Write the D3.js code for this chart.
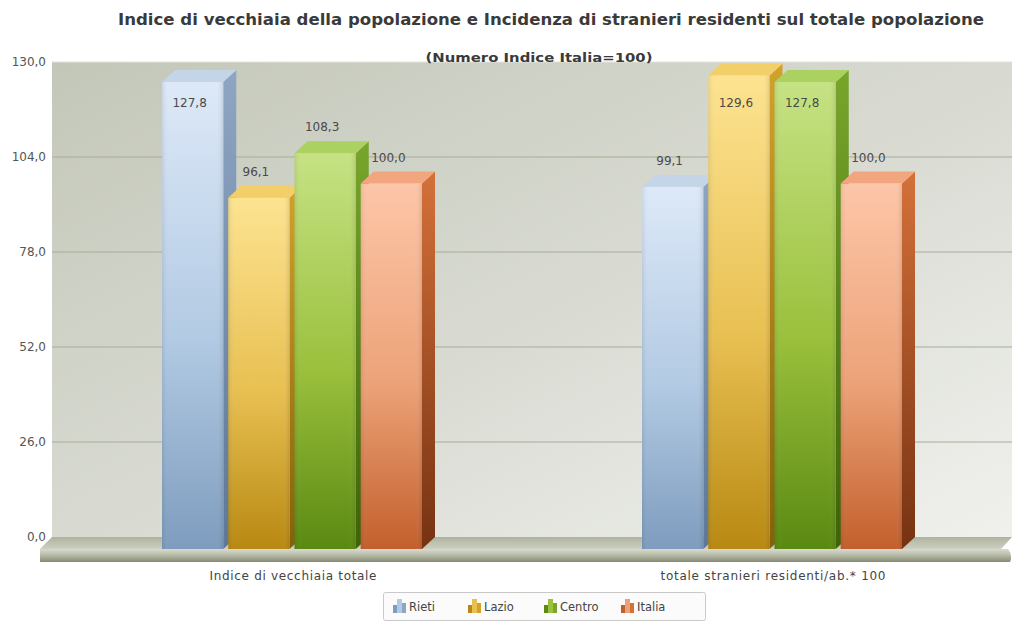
<!DOCTYPE html>
<html>
<head>
<meta charset="utf-8">
<script src="https://cdn.jsdelivr.net/npm/d3@7"></script>
<style>
  html, body { margin: 0; padding: 0; background: #ffffff; }
  svg { display: block; }
  text { font-family: "DejaVu Sans", Verdana, sans-serif; }
</style>
</head>
<body>
<svg id="chart" width="1014" height="623"></svg>
<script>
// Chart data
const categories = ["Indice di vecchiaia totale", "totale stranieri residenti/ab.* 100"];
const series = ["Rieti", "Lazio", "Centro", "Italia"];
const rietiValues = [127.8, 99.1];
const lazioValues = [96.1, 129.6];
const centroValues = [108.3, 127.8];
const italiaValues = [100.0, 100.0];
const yTicks = [0, 26, 52, 78, 104, 130];

const title = "Indice di vecchiaia della popolazione e Incidenza di stranieri residenti sul totale popolazione";
const subtitle = "(Numero Indice Italia=100)";

const valuesBySeries = [rietiValues, lazioValues, centroValues, italiaValues];

// Face colours per series: front gradient (top, middle, bottom), side, top
const palette = {
  Rieti:  { hi: "#dde9f8", mid: "#b2cae3", lo: "#7e9cbe", side: "#8ea6c2", sideLo: "#5d7898", top: "#c4d5e8" },
  Lazio:  { hi: "#fde391", mid: "#e8c052", lo: "#b88912", side: "#d2a22a", sideLo: "#86600a", top: "#f3cf6a" },
  Centro: { hi: "#c6e284", mid: "#9ac03c", lo: "#5a8912", side: "#78a62c", sideLo: "#3d6208", top: "#abd160" },
  Italia: { hi: "#fdc6a8", mid: "#eca278", lo: "#c35f2c", side: "#d4713a", sideLo: "#763212", top: "#f2a680" }
};

const svg = d3.select("#chart");
const defs = svg.append("defs");

const plot = { left: 52, right: 1012, top: 62, bottom: 537 };
const depthX = 13, depthY = 12;

const y = d3.scaleLinear().domain([0, 130]).range([plot.bottom, plot.top]);
const x0 = d3.scaleBand().domain(categories).range([plot.left, plot.right]);
const x1 = d3.scaleBand().domain(series).range([110, 370]).paddingInner(0.075);

// Back wall gradient
const wall = defs.append("linearGradient").attr("id", "wall")
  .attr("x1", "0%").attr("y1", "0%").attr("x2", "100%").attr("y2", "100%");
wall.append("stop").attr("offset", "0%").attr("stop-color", "#c3c7b8");
wall.append("stop").attr("offset", "55%").attr("stop-color", "#dadcd4");
wall.append("stop").attr("offset", "100%").attr("stop-color", "#f0f1ed");

svg.append("rect")
  .attr("x", plot.left).attr("y", plot.top)
  .attr("width", plot.right - plot.left).attr("height", plot.bottom - plot.top)
  .attr("fill", "url(#wall)");

// Gridlines
svg.append("g").selectAll("line")
  .data(yTicks.filter(t => t > 0))
  .join("line")
  .attr("x1", plot.left).attr("x2", plot.right)
  .attr("y1", d => y(d)).attr("y2", d => y(d))
  .attr("stroke", d => d === 130 ? "#e2e4dc" : "#a7ad9a")
  .attr("stroke-width", 1);

// Y axis labels
const fmt = v => d3.format(".1f")(v).replace(".", ",");
svg.append("g").selectAll("text")
  .data(yTicks)
  .join("text")
  .attr("x", 46).attr("y", d => y(d) + 4)
  .attr("text-anchor", "end")
  .attr("font-size", 12)
  .attr("fill", "#555")
  .text(fmt);

// Floor slab
const floorTop = defs.append("linearGradient").attr("id", "floorTop")
  .attr("x1", "0").attr("y1", "0").attr("x2", "0").attr("y2", "1");
floorTop.append("stop").attr("offset", "0%").attr("stop-color", "#aeb39e");
floorTop.append("stop").attr("offset", "100%").attr("stop-color", "#cdd0c2");
const floorFront = defs.append("linearGradient").attr("id", "floorFront")
  .attr("x1", "0").attr("y1", "0").attr("x2", "0").attr("y2", "1");
floorFront.append("stop").attr("offset", "0%").attr("stop-color", "#d8dbcf");
floorFront.append("stop").attr("offset", "45%").attr("stop-color", "#b9bda9");
floorFront.append("stop").attr("offset", "100%").attr("stop-color", "#858a74");

const fy = plot.bottom + depthY;
svg.append("path")
  .attr("d", `M${plot.left},${plot.bottom} L${plot.right},${plot.bottom} L${plot.right - depthX + 2},${fy} L${plot.left - depthX + 1},${fy} Z`)
  .attr("fill", "url(#floorTop)");
svg.append("path")
  .attr("d", `M${plot.left - depthX + 1},${fy} L${plot.right - 4},${fy} Q${plot.right + 1},${fy + 6} ${plot.right - 2},${fy + 13} L${plot.left - depthX + 1},${fy + 13} Z`)
  .attr("fill", "url(#floorFront)");

// Gradients for each series
series.forEach(s => {
  const c = palette[s];
  const g = defs.append("linearGradient").attr("id", "front-" + s)
    .attr("x1", "0").attr("y1", "0").attr("x2", "0").attr("y2", "1");
  g.append("stop").attr("offset", "0%").attr("stop-color", c.hi);
  g.append("stop").attr("offset", "55%").attr("stop-color", c.mid);
  g.append("stop").attr("offset", "100%").attr("stop-color", c.lo);
  const gs = defs.append("linearGradient").attr("id", "side-" + s)
    .attr("x1", "0").attr("y1", "0").attr("x2", "0").attr("y2", "1");
  gs.append("stop").attr("offset", "0%").attr("stop-color", c.side);
  gs.append("stop").attr("offset", "100%").attr("stop-color", c.sideLo);
});
// Soft vertical edges on the front faces
const edge = defs.append("linearGradient").attr("id", "edge")
  .attr("x1", "0").attr("y1", "0").attr("x2", "1").attr("y2", "0");
edge.append("stop").attr("offset", "0%").attr("stop-color", "#000").attr("stop-opacity", 0.08);
edge.append("stop").attr("offset", "12%").attr("stop-color", "#fff").attr("stop-opacity", 0.0);
edge.append("stop").attr("offset", "88%").attr("stop-color", "#fff").attr("stop-opacity", 0.0);
edge.append("stop").attr("offset", "100%").attr("stop-color", "#000").attr("stop-opacity", 0.1);

// Bars
const bars = [];
categories.forEach((cat, ci) => {
  series.forEach((s, si) => {
    bars.push({ cat, s, v: valuesBySeries[si][ci] });
  });
});

const barW = x1.bandwidth();
const gBars = svg.append("g");
bars.forEach(b => {
  const xl = x0(b.cat) + x1(b.s);
  const xr = xl + barW;
  const yt = y(b.v) + depthY;         // front top
  const yb = y(0) + depthY;           // front bottom
  const g = gBars.append("g");
  // side face
  g.append("path")
    .attr("d", `M${xr},${yt} L${xr + depthX},${yt - depthY} L${xr + depthX},${yb - depthY} L${xr},${yb} Z`)
    .attr("fill", `url(#side-${b.s})`);
  // top face
  g.append("path")
    .attr("d", `M${xl},${yt} L${xl + depthX},${yt - depthY} L${xr + depthX},${yt - depthY} L${xr},${yt} Z`)
    .attr("fill", palette[b.s].top);
  // front face
  g.append("rect")
    .attr("x", xl).attr("y", yt).attr("width", barW).attr("height", yb - yt)
    .attr("fill", `url(#front-${b.s})`);
  g.append("rect")
    .attr("x", xl).attr("y", yt).attr("width", barW).attr("height", yb - yt)
    .attr("fill", "url(#edge)");
});

// Value labels
svg.append("g").selectAll("text")
  .data(bars)
  .join("text")
  .attr("x", d => x0(d.cat) + x1(d.s) + barW / 2 - 3)
  .attr("y", d => Math.max(y(d.v) - 10, 107))
  .attr("text-anchor", "middle")
  .attr("font-size", 12)
  .attr("fill", "#4a4a4a")
  .text(d => fmt(d.v));

// Category labels
const categoryLabelWidths = [167, 225];
svg.append("g").selectAll("text")
  .data(categories)
  .join("text")
  .attr("x", d => x0(d) + x0.bandwidth() / 2 + 1)
  .attr("y", 580)
  .attr("text-anchor", "middle")
  .attr("font-size", 12)
  .attr("fill", "#444")
  .attr("textLength", (d, i) => categoryLabelWidths[i])
  .attr("lengthAdjust", "spacing")
  .text(d => d);

// Title and subtitle
svg.append("text")
  .attr("x", 551).attr("y", 25)
  .attr("text-anchor", "middle")
  .attr("font-size", 15)
  .attr("font-weight", "bold")
  .attr("fill", "#3a3a3a")
  .attr("textLength", 866)
  .attr("lengthAdjust", "spacingAndGlyphs")
  .text(title);
svg.append("text")
  .attr("x", 539).attr("y", 62)
  .attr("text-anchor", "middle")
  .attr("font-size", 13)
  .attr("font-weight", "bold")
  .attr("fill", "#3a3a3a")
  .attr("textLength", 227)
  .attr("lengthAdjust", "spacingAndGlyphs")
  .text(subtitle);

// Legend
const legend = svg.append("g");
legend.append("rect")
  .attr("x", 383.5).attr("y", 592.5).attr("width", 322).attr("height", 28)
  .attr("rx", 2)
  .attr("fill", "#fbfbfb").attr("stroke", "#c9c9c9");
const legendX = [393, 468, 544, 621];
series.forEach((s, i) => {
  const c = palette[s];
  const g = legend.append("g").attr("transform", `translate(${legendX[i]},599)`);
  // small bar-chart glyph
  g.append("rect").attr("x", 0).attr("y", 6).attr("width", 4).attr("height", 8).attr("fill", c.lo);
  g.append("rect").attr("x", 4).attr("y", 0).attr("width", 5).attr("height", 14).attr("fill", c.mid);
  g.append("rect").attr("x", 9).attr("y", 4).attr("width", 4).attr("height", 10).attr("fill", c.side);
  g.append("text")
    .attr("x", 16).attr("y", 12)
    .attr("font-size", 11.5)
    .attr("fill", "#444")
    .text(s);
});
</script>
</body>
</html>
